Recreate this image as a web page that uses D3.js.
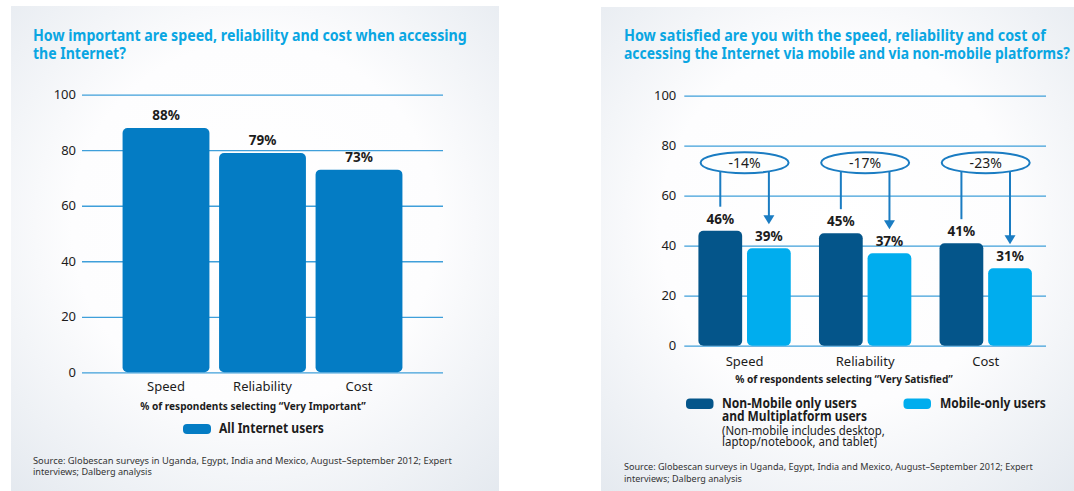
<!DOCTYPE html>
<html>
<head>
<meta charset="utf-8">
<script src="https://cdn.jsdelivr.net/npm/d3@7"></script>
<style>
  html, body { margin: 0; padding: 0; background: #ffffff; }
  svg { display: block; font-family: "Noto Sans", "Open Sans", sans-serif; }
</style>
</head>
<body>
<svg id="chart" width="1074" height="491"></svg>
<script>
// ---------- DATA ----------
const categories = ["Speed", "Reliability", "Cost"];
const importanceValues = [88, 79, 73];
const nonMobileValues = [46, 45, 41];
const mobileValues = [39, 37, 31];
const changeLabels = ["-14%", "-17%", "-23%"];
const yTicks = [0, 20, 40, 60, 80, 100];
const seriesKeys = ["nonMobile", "mobile"];
const leftTitle = ["How important are speed, reliability and cost when accessing", "the Internet?"];
const rightTitle = ["How satisfied are you with the speed, reliability and cost of", "accessing the Internet via mobile and via non-mobile platforms?"];
const leftAxisTitle = "% of respondents selecting \u201CVery Important\u201D";
const rightAxisTitle = "% of respondents selecting \u201CVery Satisfied\u201D";
const leftLegend = ["All Internet users"];
const rightLegend1 = ["Non-Mobile only users", "and Multiplatform users"];
const rightLegendNote = ["(Non-mobile includes desktop,", "laptop/notebook, and tablet)"];
const rightLegend2 = ["Mobile-only users"];
const sourceLines = ["Source: Globescan surveys in Uganda, Egypt, India and Mexico, August\u2013September 2012; Expert", "interviews; Dalberg analysis"];

// ---------- STYLE ----------
const C = {
  title: "#0aa6e2",
  grid: "#3f9fda",
  text: "#1c1c1c",
  bar: "#047cc4",
  dark: "#04558a",
  light: "#00adee",
  callout: "#1a7cc2"
};

const svg = d3.select("#chart");
const defs = svg.append("defs");
const grad = defs.append("radialGradient").attr("id", "bg").attr("cx", "50%").attr("cy", "45%").attr("r", "75%");
grad.append("stop").attr("offset", "0%").attr("stop-color", "#ffffff");
grad.append("stop").attr("offset", "50%").attr("stop-color", "#fdfdfe");
grad.append("stop").attr("offset", "100%").attr("stop-color", "#e4e9ef");

function panel(x, y, w, h) {
  svg.append("rect").attr("x", x).attr("y", y).attr("width", w).attr("height", h).attr("fill", "url(#bg)");
}
// condense a text horizontally to the wanted width (scale around its anchor x)
function fitText(sel, x, w) {
  const natural = sel.node().getComputedTextLength();
  if (natural > 0) {
    const k = w / natural;
    sel.attr("transform", `translate(${x},0) scale(${k},1) translate(${-x},0)`);
  }
  return sel;
}
function addText(x, y, str, opts) {
  const t = svg.append("text").attr("x", x).attr("y", y).text(str)
    .attr("font-size", opts.size || 13)
    .attr("font-weight", opts.weight || "normal")
    .attr("fill", opts.fill || C.text)
    .attr("text-anchor", opts.anchor || "start");
  if (opts.width) fitText(t, x, opts.width);
  return t;
}

panel(11, 6, 488, 485);
panel(601, 7, 473, 484);

// ---------- LEFT CHART ----------
const yL = d3.scaleLinear().domain([0, 100]).range([372.3, 94.7]);
const xL = d3.scaleBand().domain(categories).range([117.75, 407.25]).paddingInner(0.1).paddingOuter(0.05);
const gridL = [82, 443];

addText(33, 41.5, leftTitle[0], {size: 15.5, weight: "bold", fill: C.title, width: 434});
addText(33, 59.5, leftTitle[1], {size: 15.5, weight: "bold", fill: C.title, width: 93});

const axL = svg.append("g").attr("transform", `translate(${gridL[0]},0)`)
  .call(d3.axisLeft(yL).tickValues(yTicks).tickSize(-(gridL[1] - gridL[0])).tickPadding(6));
axL.select(".domain").remove();
axL.selectAll(".tick line").attr("stroke", C.grid).attr("stroke-width", 1.3);
axL.selectAll(".tick text").attr("font-size", 13).attr("fill", C.text).attr("font-family", "Noto Sans, sans-serif");

svg.append("g").selectAll("rect").data(categories).join("rect")
  .attr("x", d => xL(d))
  .attr("y", (d, i) => yL(importanceValues[i]))
  .attr("width", xL.bandwidth())
  .attr("height", (d, i) => yL(0) - yL(importanceValues[i]))
  .attr("rx", 5)
  .attr("fill", C.bar);

svg.append("g").selectAll("text").data(categories).join("text")
  .attr("x", d => xL(d) + xL.bandwidth() / 2)
  .attr("y", (d, i) => yL(importanceValues[i]) - 8)
  .attr("text-anchor", "middle").attr("font-size", 13.5).attr("font-weight", "bold").attr("fill", C.text)
  .text((d, i) => importanceValues[i] + "%");

svg.append("g").selectAll("text").data(categories).join("text")
  .attr("x", d => xL(d) + xL.bandwidth() / 2)
  .attr("y", yL(0) + 19)
  .attr("text-anchor", "middle").attr("font-size", 13).attr("fill", C.text)
  .text(d => d);

addText(253, 410, leftAxisTitle, {size: 11, weight: "bold", anchor: "middle", width: 226});
svg.append("rect").attr("x", 183).attr("y", 424).attr("width", 28).attr("height", 10).attr("rx", 4).attr("fill", C.bar);
addText(219, 433, leftLegend[0], {size: 14, weight: "bold", width: 105});
addText(33, 464, sourceLines[0], {size: 9.5, fill: "#333", width: 419});
addText(33, 475.5, sourceLines[1], {size: 9.5, fill: "#333", width: 119});

// ---------- RIGHT CHART ----------
const yR = d3.scaleLinear().domain([0, 100]).range([345.7, 95.7]);
const gridR = [684.3, 1046];
const x0 = d3.scaleBand().domain(categories).range(gridR).paddingInner(0.234).paddingOuter(0.117);
const x1 = d3.scaleBand().domain(seriesKeys).range([0, x0.bandwidth()]).paddingInner(0.1);
const seriesVals = {nonMobile: nonMobileValues, mobile: mobileValues};
const seriesCol = {nonMobile: C.dark, mobile: C.light};

addText(624, 41.5, rightTitle[0], {size: 15.5, weight: "bold", fill: C.title, width: 422});
addText(624, 59.5, rightTitle[1], {size: 15.5, weight: "bold", fill: C.title, width: 446});

const axR = svg.append("g").attr("transform", `translate(${gridR[0]},0)`)
  .call(d3.axisLeft(yR).tickValues(yTicks).tickSize(-(gridR[1] - gridR[0])).tickPadding(8));
axR.select(".domain").remove();
axR.selectAll(".tick line").attr("stroke", C.grid).attr("stroke-width", 1.3);
axR.selectAll(".tick text").attr("font-size", 13).attr("fill", C.text).attr("font-family", "Noto Sans, sans-serif");

const groups = svg.append("g").selectAll("g").data(categories).join("g")
  .attr("transform", d => `translate(${x0(d)},0)`);

groups.selectAll("rect").data((d, i) => seriesKeys.map(k => ({k, v: seriesVals[k][i]}))).join("rect")
  .attr("x", d => x1(d.k))
  .attr("y", d => yR(d.v))
  .attr("width", x1.bandwidth())
  .attr("height", d => yR(0) - yR(d.v))
  .attr("rx", 5)
  .attr("fill", d => seriesCol[d.k]);

groups.selectAll("text.val").data((d, i) => seriesKeys.map(k => ({k, v: seriesVals[k][i]}))).join("text")
  .attr("class", "val")
  .attr("x", d => x1(d.k) + x1.bandwidth() / 2)
  .attr("y", d => yR(d.v) - 7)
  .attr("text-anchor", "middle").attr("font-size", 13.5).attr("font-weight", "bold").attr("fill", C.text)
  .text(d => d.v + "%");

// callouts
const ovalRx = 44, ovalRy = 10.5, ovalVal = 73.2, gap = 24;
groups.each(function(d, i) {
  const g = d3.select(this);
  const cx = x0.bandwidth() / 2, cy = yR(ovalVal);
  const edgeY = px => cy + ovalRy * Math.sqrt(Math.max(0, 1 - Math.pow((px - cx) / ovalRx, 2)));
  const xa = x1("nonMobile") + x1.bandwidth() / 2;
  const xb = x1("mobile") + x1.bandwidth() / 2;
  const ya = yR(nonMobileValues[i]) - gap;
  const yb = yR(mobileValues[i]) - gap;
  g.append("line").attr("x1", xa).attr("x2", xa).attr("y1", edgeY(xa)).attr("y2", ya)
    .attr("stroke", C.callout).attr("stroke-width", 2);
  g.append("line").attr("x1", xb).attr("x2", xb).attr("y1", edgeY(xb)).attr("y2", yb - 8)
    .attr("stroke", C.callout).attr("stroke-width", 2);
  g.append("path").attr("d", `M${xb - 5.5},${yb - 9}L${xb + 5.5},${yb - 9}L${xb},${yb}Z`).attr("fill", C.callout);
  g.append("ellipse").attr("cx", cx).attr("cy", cy).attr("rx", ovalRx).attr("ry", ovalRy)
    .attr("fill", "#fdfefe").attr("stroke", C.callout).attr("stroke-width", 2);
  g.append("text").attr("x", cx).attr("y", cy + 5).attr("text-anchor", "middle")
    .attr("font-size", 14).attr("fill", C.text).text(changeLabels[i]);
});

groups.append("text")
  .attr("x", x0.bandwidth() / 2)
  .attr("y", yR(0) + 20)
  .attr("text-anchor", "middle").attr("font-size", 13).attr("fill", C.text)
  .text(d => d);

addText(844, 383.5, rightAxisTitle, {size: 11, weight: "bold", anchor: "middle", width: 218});

svg.append("rect").attr("x", 686).attr("y", 398.5).attr("width", 27.5).attr("height", 10.5).attr("rx", 4).attr("fill", C.dark);
addText(722, 408, rightLegend1[0], {size: 13.5, weight: "bold", width: 135});
addText(722, 421, rightLegend1[1], {size: 13.5, weight: "bold", width: 145});
addText(722, 435.5, rightLegendNote[0], {size: 12, width: 163});
addText(722, 446.5, rightLegendNote[1], {size: 12, width: 155});
svg.append("rect").attr("x", 903.5).attr("y", 398.5).attr("width", 27.5).attr("height", 10.5).attr("rx", 4).attr("fill", C.light);
addText(940, 408, rightLegend2[0], {size: 13.5, weight: "bold", width: 106});

addText(624, 470.5, sourceLines[0], {size: 9.5, fill: "#333", width: 409});
addText(624, 482, sourceLines[1], {size: 9.5, fill: "#333", width: 118});
</script>
</body>
</html>
